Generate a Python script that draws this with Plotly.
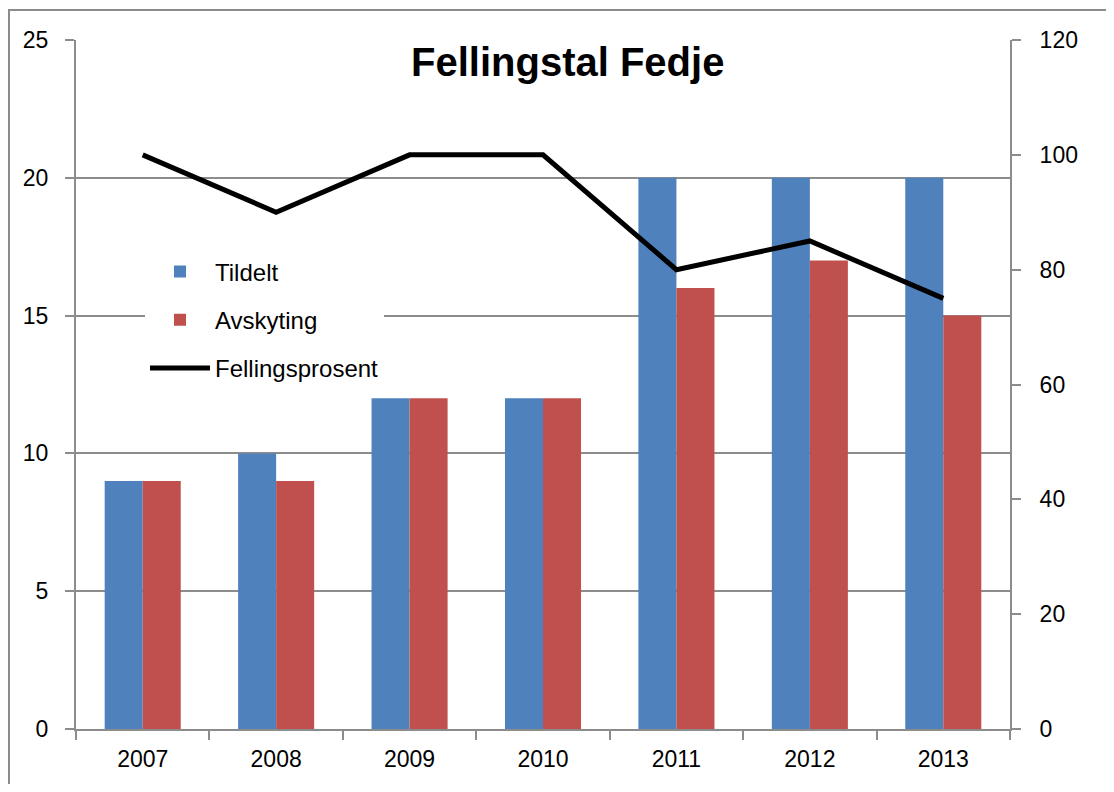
import plotly.graph_objects as go

years = ["2007", "2008", "2009", "2010", "2011", "2012", "2013"]
tildelt = [9, 10, 12, 12, 20, 20, 20]
avskyting = [9, 9, 12, 12, 16, 17, 15]
fellingsprosent = [100, 90, 100, 100, 80, 85, 75]

OFF = 8  # page body margin
W, H = 1114 - 2 * OFF, 792 - 2 * OFF
# plot-area edges in screen pixels
SL, SR, ST, SB = 76, 1010, 40, 731
L, R, T, B = SL - OFF, SR - OFF, ST - OFF, SB - OFF
pw, ph = SR - SL, SB - ST

def px(x):
    return (x - SL) / pw

def py(y):
    return (SB - y) / ph

FONT = "Liberation Sans"
GRID = "#8c8c8c"

fig = go.Figure()
fig.add_trace(go.Bar(x=years, y=tildelt, name="Tildelt", marker=dict(color="#4f81bd", line=dict(width=0)),
                     legendgroup="a"))
fig.add_trace(go.Bar(x=years, y=avskyting, name="Avskyting", marker=dict(color="#c0504d", line=dict(width=0)),
                     legendgroup="b"))
fig.add_trace(go.Scatter(x=years, y=fellingsprosent, name="Fellingsprosent", mode="lines",
                         line=dict(color="black", width=5), yaxis="y2", legendgroup="c"))

fig.update_layout(
    width=W, height=H,
    margin=dict(l=L, r=W - R, t=T, b=H - B, pad=0),
    paper_bgcolor="white", plot_bgcolor="white",
    font=dict(family=FONT, size=24, color="black"),
    barmode="group", bargap=0.43, bargroupgap=0,
    showlegend=True,
    legend=dict(x=px(145), y=py(250), xanchor="left", yanchor="top",
                bgcolor="white", borderwidth=0, font=dict(size=24, family=FONT),
                traceorder="grouped", tracegroupgap=14, itemwidth=60),
    xaxis=dict(type="category", showgrid=False, showline=True, linecolor=GRID, linewidth=2,
               ticks="outside", tickson="boundaries", ticklen=9, tickcolor=GRID, tickwidth=2,
               tickfont=dict(size=23), ticklabelstandoff=8),
    yaxis=dict(range=[0, 25], dtick=5, showgrid=True, gridcolor=GRID, gridwidth=1.5,
               showline=True, linecolor=GRID, linewidth=2, ticks="outside", ticklen=9,
               tickcolor=GRID, tickwidth=2, tickfont=dict(size=23), zeroline=False,
               ticklabelstandoff=12),
    yaxis2=dict(range=[0, 120], dtick=20, overlaying="y", side="right", showgrid=False,
                showline=True, linecolor=GRID, linewidth=2, ticks="outside", ticklen=9,
                tickcolor=GRID, tickwidth=2, tickfont=dict(size=23), zeroline=False,
                ticklabelstandoff=14),
)

fig.add_annotation(text="<b>Fellingstal Fedje</b>", xref="paper", yref="paper",
                   x=px(567), y=py(62), xanchor="center", yanchor="middle", showarrow=False,
                   font=dict(size=40, family=FONT, color="black"))

fig.add_shape(type="rect", xref="paper", yref="paper", x0=px(9), y0=py(830), x1=px(1150), y1=py(10),
              line=dict(color=GRID, width=2), fillcolor="rgba(0,0,0,0)", layer="above")

fig.write_html("out.html")
